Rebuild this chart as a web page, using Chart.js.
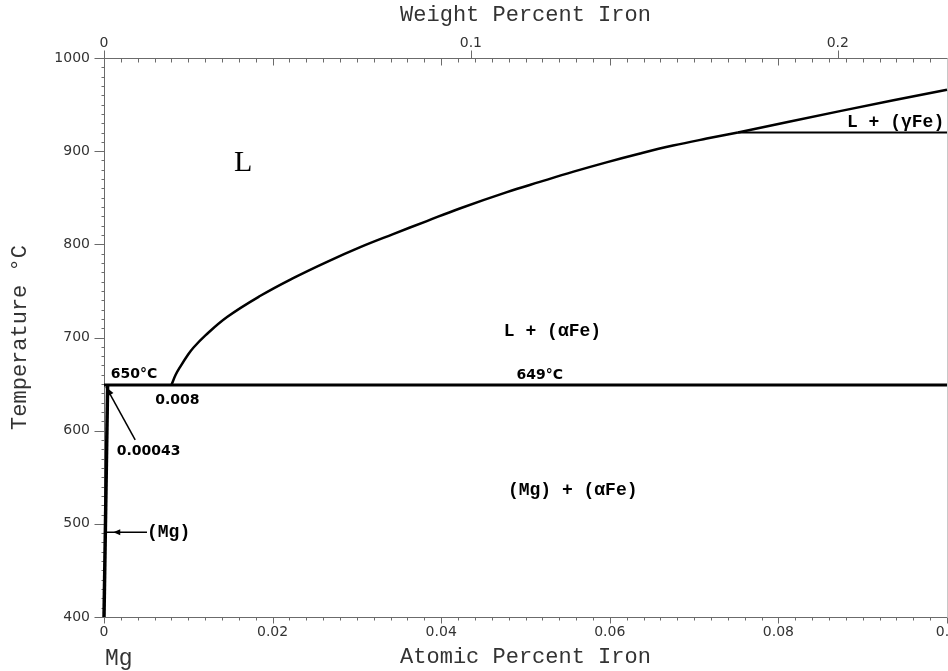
<!DOCTYPE html>
<html>
<head>
<meta charset="utf-8">
<title>Mg-Fe</title>
<script src="https://cdn.jsdelivr.net/npm/chart.js@4.4.1/dist/chart.umd.min.js"></script>
<style>
  html, body { margin: 0; padding: 0; background: #fff; overflow: hidden; }
  canvas { display: block; }
</style>
</head>
<body>
<canvas id="phaseChart" width="1000" height="671"></canvas>
<script>
// at.% Fe -> wt.% Fe, dilute in Mg
const WT_PER_AT = 55.845 / 24.305;

// tick labels
const atomicTicks = [0, 0.02, 0.04, 0.06, 0.08, 0.1];
const weightTicks = [0, 0.1, 0.2];
const tempTicks = [400, 500, 600, 700, 800, 900, 1000];

// liquidus: L/(aFe) up to the peritectic, then L/(gFe)
const liquidusX = [0.008, 0.0085, 0.009, 0.010, 0.0106, 0.012, 0.0146, 0.0185, 0.0225, 0.0264, 0.0304,
                   0.0343, 0.0383, 0.0422, 0.0478, 0.0517, 0.0557, 0.0596, 0.0636, 0.0675, 0.0715,
                   0.0752];
const liquidusT = [649, 660, 668, 682, 689, 702, 722, 744.5, 764, 781, 797,
                   811, 825, 838.5, 856, 867, 878, 888, 897.5, 906, 913.5,
                   920];
const gammaLiqX = [0.0752, 0.0873, 0.1];
const gammaLiqT = [920, 943, 966];

// invariant lines
const eutecticX = [0, 0.1];
const eutecticT = [649, 649];
const peritecticX = [0.0752, 0.1];
const peritecticT = [920, 920];

// (Mg) solvus, practically on the Mg axis
const solvusX = [0.00043, 0];
const solvusT = [649, 400];

const MONO = 'bold 18px "Liberation Mono"';
const NUM = 'bold 14px "DejaVu Sans"';
const AXIS_GRAY = '#6b6b6b';

const toPoints = (xs, ts) => xs.map((x, i) => ({ x: x, y: ts[i] }));

const phaseLabels = [
  { text: 'L', x: 0.0165, t: 887, font: '30px "Liberation Serif"' },
  { text: 'L + (\u03b1Fe)', x: 0.0532, t: 707, font: MONO },
  { text: 'L + (\u03b3Fe)', x: 0.0939, t: 931, font: MONO },
  { text: '(Mg) + (\u03b1Fe)', x: 0.0556, t: 536, font: MONO },
  { text: '(Mg)', x: 0.0051, t: 491, font: MONO, align: 'left' },
  { text: '650\u00b0C', x: 0.0008, t: 660, font: NUM, align: 'left' },
  { text: '649\u00b0C', x: 0.0517, t: 659, font: NUM },
  { text: '0.008', x: 0.0087, t: 633, font: NUM },
  { text: '0.00043', x: 0.0053, t: 578, font: NUM }
];

function lineSet(xs, ts, width, tension) {
  return {
    data: toPoints(xs, ts),
    xAxisID: 'x',
    yAxisID: 'y',
    borderColor: '#000',
    borderWidth: width,
    pointRadius: 0,
    tension: tension || 0,
    fill: false,
    clip: false
  };
}

function arrowHead(ctx, tipX, tipY, ang, len, half) {
  const bx = tipX - len * Math.cos(ang), by = tipY - len * Math.sin(ang);
  ctx.beginPath();
  ctx.moveTo(tipX, tipY);
  ctx.lineTo(bx + half * Math.sin(ang), by - half * Math.cos(ang));
  ctx.lineTo(bx - half * Math.sin(ang), by + half * Math.cos(ang));
  ctx.closePath();
  ctx.fill();
}

// axis frame with minor ticks (0.002 at.%, 10 C) and the wt.% ticks on top
const frame = {
  id: 'frame',
  beforeDatasetsDraw(chart) {
    const { ctx, chartArea: a, scales } = chart;
    const x = scales.x, x2 = scales.x2, y = scales.y;
    const px = v => Math.round(v) + 0.5;
    const L = px(a.left), R = px(a.right), T = px(a.top), B = px(a.bottom);
    ctx.save();
    ctx.lineWidth = 1;
    ctx.strokeStyle = AXIS_GRAY;
    ctx.beginPath();
    ctx.moveTo(L, T); ctx.lineTo(R, T);
    ctx.moveTo(L, T); ctx.lineTo(L, B);
    ctx.moveTo(L, B); ctx.lineTo(R, B);
    for (let i = 0; i <= 50; i++) {
      const xp = px(x.getPixelForValue(i * 0.002));
      const len = i % 10 === 0 ? 6 : 3;
      ctx.moveTo(xp, B); ctx.lineTo(xp, B + len);
      ctx.moveTo(xp, T); ctx.lineTo(xp, T + len + 1);
    }
    weightTicks.forEach(v => {
      const xp = px(x2.getPixelForValue(v));
      ctx.moveTo(xp, T); ctx.lineTo(xp, T - 8);
    });
    for (let t = 400; t <= 1000; t += 10) {
      const yp = px(y.getPixelForValue(t));
      const len = t % 100 === 0 ? 10 : 3;
      ctx.moveTo(L, yp); ctx.lineTo(L - len, yp);
    }
    ctx.stroke();
    ctx.strokeStyle = '#c8c8c8';
    ctx.beginPath();
    ctx.moveTo(R, T); ctx.lineTo(R, B);
    ctx.stroke();
    ctx.restore();
  }
};

// phase field names, invariant temperatures and pointers
const annotations = {
  id: 'annotations',
  afterDatasetsDraw(chart) {
    const { ctx, chartArea: a, scales: { x, y } } = chart;
    ctx.save();
    ctx.fillStyle = '#000';
    ctx.strokeStyle = '#000';
    ctx.textBaseline = 'middle';
    phaseLabels.forEach(l => {
      ctx.font = l.font;
      ctx.textAlign = l.align || 'center';
      ctx.fillText(l.text, x.getPixelForValue(l.x), y.getPixelForValue(l.t));
    });

    // 0.00043 pointer
    ctx.lineWidth = 1.5;
    const tx = x.getPixelForValue(0.0037), ty = y.getPixelForValue(590);
    const hx = x.getPixelForValue(0.00024), hy = y.getPixelForValue(647);
    ctx.beginPath(); ctx.moveTo(tx, ty); ctx.lineTo(hx, hy); ctx.stroke();
    arrowHead(ctx, hx, hy, Math.atan2(hy - ty, hx - tx), 9, 3.5);

    // (Mg) pointer
    const my = y.getPixelForValue(491);
    ctx.beginPath();
    ctx.moveTo(x.getPixelForValue(0.0051), my);
    ctx.lineTo(x.getPixelForValue(0), my);
    ctx.stroke();
    arrowHead(ctx, x.getPixelForValue(0.0011), my, Math.PI, 7, 3);

    // pure Mg end
    ctx.font = '23px "Liberation Mono"';
    ctx.fillStyle = '#333';
    ctx.textAlign = 'left';
    ctx.fillText('Mg', x.getPixelForValue(0) + 1, a.bottom + 42);
    ctx.restore();
  }
};

const tickFont = { family: 'DejaVu Sans', size: 14 };
const titleFont = { family: 'Liberation Mono', size: 22 };

new Chart(document.getElementById('phaseChart'), {
  type: 'line',
  data: {
    datasets: [
      lineSet(liquidusX, liquidusT, 2.5, 0.4),
      lineSet(gammaLiqX, gammaLiqT, 2.5, 0.4),
      lineSet(eutecticX, eutecticT, 2.8),
      lineSet(peritecticX, peritecticT, 2),
      lineSet(solvusX, solvusT, 3.5)
    ]
  },
  options: {
    responsive: false,
    animation: false,
    events: [],
    layout: { padding: { left: 0, top: 0, right: 53, bottom: 0 } },
    plugins: { legend: { display: false }, tooltip: { enabled: false } },
    scales: {
      x: {
        type: 'linear',
        position: 'bottom',
        min: 0,
        max: 0.1,
        afterBuildTicks: s => { s.ticks = atomicTicks.map(v => ({ value: v })); },
        afterFit: s => { s.height = 54; },
        grid: { display: false, drawTicks: false },
        border: { display: false },
        ticks: { font: tickFont, color: '#333', padding: 7, maxRotation: 0, autoSkip: false,
                 callback: v => String(v) },
        title: { display: true, text: 'Atomic Percent Iron', font: titleFont, color: '#333',
                 padding: { top: 0, bottom: 1 } }
      },
      x2: {
        type: 'linear',
        position: 'top',
        min: 0,
        max: 0.1 * WT_PER_AT,
        afterBuildTicks: s => { s.ticks = weightTicks.map(v => ({ value: v })); },
        afterFit: s => { s.height = 58; },
        grid: { display: false, drawTicks: false },
        border: { display: false },
        ticks: { font: tickFont, color: '#333', padding: 6, maxRotation: 0, autoSkip: false,
                 callback: v => String(v) },
        title: { display: true, text: 'Weight Percent Iron', font: titleFont, color: '#333',
                 padding: { top: 2, bottom: 0 } }
      },
      y: {
        type: 'linear',
        min: 400,
        max: 1000,
        afterBuildTicks: s => { s.ticks = tempTicks.map(v => ({ value: v })); },
        afterFit: s => { s.width = 104; },
        grid: { display: false, drawTicks: false },
        border: { display: false },
        ticks: { font: tickFont, color: '#333', padding: 14, autoSkip: false,
                 callback: v => String(v) },
        title: { display: true, text: 'Temperature \u00b0C', font: titleFont, color: '#333',
                 padding: { top: 7, bottom: 0 } }
      }
    }
  },
  plugins: [frame, annotations]
});
</script>
</body>
</html>
